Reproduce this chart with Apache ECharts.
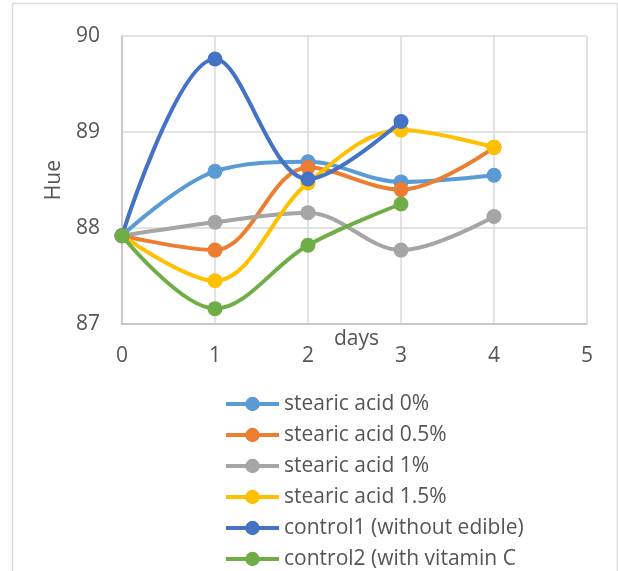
<!DOCTYPE html>
<html>
<head>
<meta charset="utf-8">
<style>
  html, body { margin: 0; padding: 0; background: #ffffff; }
  #chart { width: 618px; height: 571px; }
</style>
<script src="https://cdn.jsdelivr.net/npm/echarts@6/dist/echarts.min.js"></script>
</head>
<body>
<div id="chart"></div>
<script>
// Hue measured over storage days for each coating treatment
const days = [0, 1, 2, 3, 4];
const seriesNames = [
  'stearic acid 0%',
  'stearic acid 0.5%',
  'stearic acid 1%',
  'stearic acid 1.5%',
  'control1 (without edible)',
  'control2 (with vitamin C'
];
const stearic0 = [87.92, 88.59, 88.69, 88.48, 88.55];
const stearic05 = [87.92, 87.77, 88.63, 88.40, 88.84];
const stearic1 = [87.92, 88.06, 88.16, 87.77, 88.12];
const stearic15 = [87.92, 87.45, 88.47, 89.02, 88.84];
const control1 = [87.92, 89.76, 88.51, 89.11];
const control2 = [87.92, 87.16, 87.82, 88.25];
const xTicks = [0, 1, 2, 3, 4, 5];
const yTicks = [87, 88, 89, 90];

const colors = ['#5B9BD5', '#ED7D31', '#A5A5A5', '#FFC000', '#4472C4', '#70AD47'];
const values = [stearic0, stearic05, stearic1, stearic15, control1, control2];
const FONT = 'Open Sans';
const TEXT = '#555555';

const chart = echarts.init(document.getElementById('chart'));

chart.setOption({
  animation: false,
  color: colors,
  textStyle: { fontFamily: FONT },
  grid: { left: 122, right: 31, top: 36, bottom: 247, containLabel: false },
  xAxis: {
    type: 'value',
    min: xTicks[0],
    max: xTicks[xTicks.length - 1],
    interval: 1,
    axisLine: { show: true, onZero: false, lineStyle: { color: '#bfbfbf', width: 1.5 } },
    axisTick: { show: false },
    axisLabel: { color: TEXT, fontSize: 21, fontFamily: FONT, margin: 22 },
    splitLine: { show: true, lineStyle: { color: '#d9d9d9', width: 1.5 } }
  },
  yAxis: {
    type: 'value',
    min: yTicks[0],
    max: yTicks[yTicks.length - 1],
    interval: 1,
    axisLine: { show: true, lineStyle: { color: '#bfbfbf', width: 1.5 } },
    axisTick: { show: false },
    axisLabel: { color: TEXT, fontSize: 21, fontFamily: FONT, margin: 22 },
    splitLine: { show: true, lineStyle: { color: '#d9d9d9', width: 1.5 } }
  },
  legend: {
    orient: 'vertical',
    left: 219,
    top: 387,
    height: 200,
    itemWidth: 53,
    itemHeight: 18,
    itemGap: 7,
    data: seriesNames,
    itemStyle: { borderWidth: 0 },
    lineStyle: { width: 4 },
    textStyle: { color: TEXT, fontSize: 21, fontFamily: FONT, lineHeight: 24 }
  },
  graphic: [
    {
      type: 'rect',
      shape: { x: 12.5, y: 3.5, width: 605, height: 600 },
      style: { fill: 'none', stroke: '#d9d9d9', lineWidth: 1.5 },
      silent: true
    },
    {
      type: 'text',
      left: 44,
      top: 160,
      rotation: Math.PI / 2,
      style: { text: 'Hue', fill: TEXT, fontSize: 21, fontFamily: FONT },
      silent: true
    },
    {
      type: 'text',
      left: 334,
      top: 329,
      style: { text: 'days', fill: TEXT, fontSize: 21, fontFamily: FONT },
      silent: true
    }
  ],
  series: values.map((vals, i) => ({
    name: seriesNames[i],
    type: 'line',
    smooth: 0.35,
    symbol: 'circle',
    symbolSize: 15,
    z: 2 + i,
    lineStyle: { width: 4 },
    data: vals.map((v, k) => [days[k], v])
  }))
});
</script>
</body>
</html>
